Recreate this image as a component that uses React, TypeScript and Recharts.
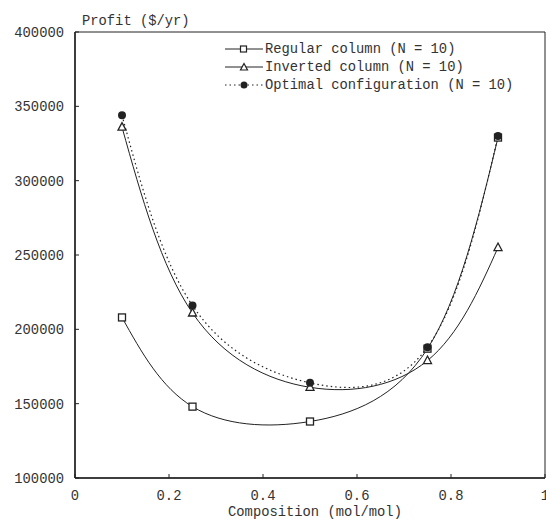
import React from 'react';
import {
  LineChart,
  Line,
  XAxis,
  YAxis,
  Legend,
  ReferenceArea,
} from 'recharts';

// Composition (mol/mol) and profit ($/yr) for each column layout
const compositions = [0.1, 0.25, 0.5, 0.75, 0.9];
const regularProfit = [208000, 148000, 138000, 187000, 329000];
const invertedProfit = [336000, 211000, 161000, 179000, 255000];
const optimalProfit = [344000, 216000, 164000, 188000, 330000];

const xTicks = [0, 0.2, 0.4, 0.6, 0.8, 1];
const yTicks = [100000, 150000, 200000, 250000, 300000, 350000, 400000];

const seriesNames = [
  'Regular column (N = 10)',
  'Inverted column (N = 10)',
  'Optimal configuration (N = 10)',
];

const data = compositions.map((c, i) => ({
  x: c,
  regular: regularProfit[i],
  inverted: invertedProfit[i],
  optimal: optimalProfit[i],
}));

const FONT = '"Liberation Mono", "DejaVu Sans Mono", monospace';
const INK = '#222';
const TEXT = '#333';
const TICK_STYLE = { fill: TEXT, fontSize: 13.8, fontFamily: FONT };

// Marker shapes
const SquareDot = (props: any) => {
  const { cx, cy, key } = props;
  if (cx == null || cy == null) return <g key={key} />;
  return <rect key={key} x={cx - 3.5} y={cy - 3.5} width={7} height={7} fill="#fff" stroke={INK} strokeWidth={1.3} />;
};

const TriangleDot = (props: any) => {
  const { cx, cy, key } = props;
  if (cx == null || cy == null) return <g key={key} />;
  return (
    <polygon
      key={key}
      points={`${cx},${cy - 4.5} ${cx + 4},${cy + 3} ${cx - 4},${cy + 3}`}
      fill="#fff"
      stroke={INK}
      strokeWidth={1.3}
    />
  );
};

const CircleDot = (props: any) => {
  const { cx, cy, key } = props;
  if (cx == null || cy == null) return <g key={key} />;
  return <circle key={key} cx={cx} cy={cy} r={4} fill={INK} />;
};

const LegendIcon = ({ kind }: { kind: number }) => (
  <svg width={38} height={16} style={{ display: 'block' }}>
    <line x1={0} y1={8} x2={38} y2={8} stroke={INK} strokeWidth={1} strokeDasharray={kind === 2 ? '1.5 3' : undefined} />
    {kind === 0 && <rect x={15.5} y={5} width={6} height={6} fill="#fff" stroke={INK} strokeWidth={1.2} />}
    {kind === 1 && <polygon points="19,4.5 22.5,11 15.5,11" fill="#fff" stroke={INK} strokeWidth={1.2} />}
    {kind === 2 && <circle cx={19} cy={8} r={3.5} fill={INK} />}
  </svg>
);

const renderLegend = () => (
  <div style={{ fontFamily: FONT, fontSize: 13.8, color: TEXT }}>
    {seriesNames.map((name, i) => (
      <div key={name} style={{ display: 'flex', alignItems: 'center', height: 18 }}>
        <LegendIcon kind={i} />
        <span style={{ marginLeft: 2, whiteSpace: 'pre' }}>{name}</span>
      </div>
    ))}
  </div>
);

const ProfitTitle = (props: any) => {
  const { viewBox } = props;
  return (
    <text x={viewBox.x + viewBox.width + 7} y={viewBox.y - 7} fill={TEXT} fontSize={13.8} fontFamily={FONT}>
      Profit ($/yr)
    </text>
  );
};

const CompositionTitle = (props: any) => {
  const { viewBox } = props;
  return (
    <text x={viewBox.x + viewBox.width / 2 + 5} y={viewBox.y + 38} textAnchor="middle" fill={TEXT} fontSize={13.8} fontFamily={FONT}>
      Composition (mol/mol)
    </text>
  );
};

export default function App() {
  return (
    <div style={{ position: 'absolute', left: 0, top: 0, width: 546, height: 520, background: '#fff' }}>
      <LineChart width={546} height={520} data={data} margin={{ top: 32, right: 1, bottom: 0, left: 0 }}>
        <XAxis
          dataKey="x"
          type="number"
          domain={[0, 1]}
          ticks={xTicks}
          interval={0}
          height={42}
          tick={TICK_STYLE}
          tickSize={-4}
          tickMargin={16}
          tickFormatter={(v: number) => String(v)}
          axisLine={{ stroke: INK, strokeWidth: 1.5 }}
          tickLine={{ stroke: INK }}
          label={{ content: <CompositionTitle /> }}
        />
        <YAxis
          type="number"
          domain={[100000, 400000]}
          ticks={yTicks}
          interval={0}
          width={75}
          tick={TICK_STYLE}
          tickSize={-4}
          tickMargin={15}
          axisLine={{ stroke: INK, strokeWidth: 1.5 }}
          tickLine={{ stroke: INK }}
          label={{ content: <ProfitTitle /> }}
        />
        <ReferenceArea x1={0} x2={1} y1={100000} y2={400000} fill="none" stroke={INK} strokeWidth={1} ifOverflow="visible" />
        {/* centered/middle keeps the legend from reserving chart space; wrapperStyle places it */}
        <Legend
          content={renderLegend}
          layout="vertical"
          verticalAlign="middle"
          align="center"
          wrapperStyle={{ left: 225, top: 40, width: 300 }}
        />
        <Line type="natural" dataKey="regular" stroke={INK} strokeWidth={1} dot={SquareDot} isAnimationActive={false} />
        <Line type="natural" dataKey="inverted" stroke={INK} strokeWidth={1} dot={TriangleDot} isAnimationActive={false} />
        <Line
          type="natural"
          dataKey="optimal"
          stroke={INK}
          strokeWidth={1.2}
          strokeDasharray="1.5 3"
          dot={CircleDot}
          isAnimationActive={false}
        />
      </LineChart>
    </div>
  );
}
